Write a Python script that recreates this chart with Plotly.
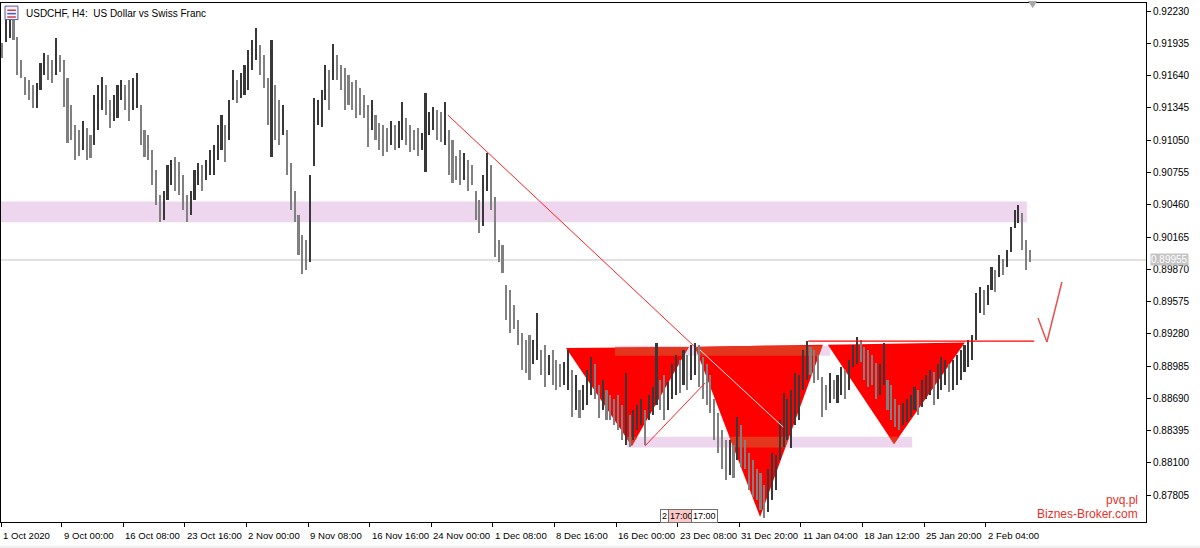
import plotly.graph_objects as go

# ---------------- data (8-hour bars) ----------------
highs = [
    0.9194, 0.9218, 0.9223, 0.9215, 0.9199, 0.9178, 0.9163, 0.9160, 0.9155, 0.9157,
    0.9176, 0.9185, 0.9183, 0.9178, 0.9198, 0.9183, 0.9178, 0.9162, 0.9137, 0.9119,
    0.9114, 0.9123, 0.9116, 0.9110, 0.9146, 0.9155, 0.9163, 0.9155, 0.9142, 0.9146,
    0.9155, 0.9160, 0.9155, 0.9160, 0.9162, 0.9166, 0.9137, 0.9114, 0.9110, 0.9096,
    0.9078, 0.9055, 0.9059, 0.9082, 0.9087, 0.9090, 0.9085, 0.9073, 0.9055, 0.9059,
    0.9078, 0.9084, 0.9082, 0.9087, 0.9096, 0.9101, 0.9119, 0.9128, 0.9119, 0.9142,
    0.9169, 0.9160, 0.9166, 0.9174, 0.9187, 0.9197, 0.9208, 0.9192, 0.9183, 0.9162,
    0.9197, 0.9155, 0.9142, 0.9137, 0.9114, 0.9084, 0.9059, 0.9037, 0.9018, 0.9014,
    0.9073, 0.9144, 0.9142, 0.9151, 0.9174, 0.9169, 0.9193, 0.9183, 0.9174, 0.9171,
    0.9165, 0.9158, 0.9160, 0.9153, 0.9146, 0.9137, 0.9142, 0.9128, 0.9121, 0.9119,
    0.9116, 0.9123, 0.9119, 0.9123, 0.9140, 0.9125, 0.9119, 0.9114, 0.9116, 0.9112,
    0.9148, 0.9131, 0.9135, 0.9133, 0.9131, 0.9140, 0.9114, 0.9105, 0.9091, 0.9096,
    0.9093, 0.9087, 0.9082, 0.9059, 0.9050, 0.9073, 0.9093, 0.9082, 0.9053, 0.9014,
    0.9009, 0.8973, 0.8968, 0.8954, 0.8941, 0.8929, 0.8922, 0.8927, 0.8922, 0.8947,
    0.8913, 0.8918, 0.8909, 0.8913, 0.8904, 0.8900, 0.8902, 0.8913, 0.8895, 0.8890,
    0.8877, 0.8881, 0.8895, 0.8907, 0.8900, 0.8881, 0.8886, 0.8877, 0.8872, 0.8868,
    0.8872, 0.8863, 0.8892, 0.8854, 0.8858, 0.8863, 0.8868, 0.8858, 0.8872, 0.8879,
    0.8920, 0.8886, 0.8890, 0.8884, 0.8900, 0.8909, 0.8904, 0.8913, 0.8909, 0.8918,
    0.8920, 0.8918, 0.8907, 0.8900, 0.8890, 0.8868, 0.8856, 0.8840, 0.8831, 0.8831,
    0.8826, 0.8852, 0.8845, 0.8831, 0.8819, 0.8813, 0.8804, 0.8801, 0.8790, 0.8804,
    0.8819, 0.8817, 0.8849, 0.8874, 0.8868, 0.8877, 0.8892, 0.8890, 0.8913, 0.8921,
    0.8916, 0.8913, 0.8909, 0.8889, 0.8881, 0.8892, 0.8886, 0.8890, 0.8898, 0.8895,
    0.8904, 0.8918, 0.8925, 0.8922, 0.8916, 0.8913, 0.8909, 0.8901, 0.8900, 0.8920,
    0.8886, 0.8881, 0.8868, 0.8863, 0.8865, 0.8868, 0.8872, 0.8879, 0.8877, 0.8886,
    0.8890, 0.8895, 0.8893, 0.8900, 0.8907, 0.8904, 0.8900, 0.8904, 0.8909, 0.8913,
    0.8918, 0.8922, 0.8927, 0.8965, 0.8971, 0.8968, 0.8973, 0.8989, 0.8986, 0.9000,
    0.8996, 0.9005, 0.9026, 0.9041, 0.9046, 0.9038, 0.9014, 0.9005,
]
lows = [
    0.9180, 0.9195, 0.9198, 0.9197, 0.9165, 0.9162, 0.9146, 0.9142, 0.9134, 0.9134,
    0.9151, 0.9165, 0.9160, 0.9157, 0.9165, 0.9167, 0.9135, 0.9102, 0.9105, 0.9087,
    0.9091, 0.9096, 0.9087, 0.9089, 0.9101, 0.9114, 0.9133, 0.9128, 0.9116, 0.9123,
    0.9125, 0.9142, 0.9133, 0.9123, 0.9133, 0.9134, 0.9101, 0.9090, 0.9087, 0.9064,
    0.9046, 0.9030, 0.9032, 0.9050, 0.9064, 0.9059, 0.9055, 0.9041, 0.9030, 0.9037,
    0.9050, 0.9064, 0.9059, 0.9069, 0.9073, 0.9073, 0.9087, 0.9096, 0.9085, 0.9105,
    0.9142, 0.9139, 0.9144, 0.9146, 0.9151, 0.9169, 0.9178, 0.9165, 0.9153, 0.9119,
    0.9090, 0.9105, 0.9101, 0.9110, 0.9073, 0.9041, 0.9030, 0.9000, 0.8983, 0.8986,
    0.8994, 0.9081, 0.9119, 0.9117, 0.9142, 0.9133, 0.9160, 0.9160, 0.9151, 0.9133,
    0.9137, 0.9133, 0.9125, 0.9128, 0.9125, 0.9099, 0.9114, 0.9105, 0.9096, 0.9091,
    0.9094, 0.9101, 0.9096, 0.9098, 0.9105, 0.9101, 0.9094, 0.9096, 0.9091, 0.9096,
    0.9076, 0.9110, 0.9114, 0.9105, 0.9103, 0.9101, 0.9073, 0.9066, 0.9069, 0.9064,
    0.9069, 0.9059, 0.9064, 0.9032, 0.9020, 0.9027, 0.9059, 0.9041, 0.8998, 0.8994,
    0.8984, 0.8941, 0.8929, 0.8932, 0.8918, 0.8895, 0.8892, 0.8886, 0.8900, 0.8904,
    0.8890, 0.8879, 0.8890, 0.8881, 0.8877, 0.8879, 0.8881, 0.8877, 0.8852, 0.8858,
    0.8851, 0.8858, 0.8863, 0.8872, 0.8868, 0.8851, 0.8858, 0.8849, 0.8849, 0.8845,
    0.8840, 0.8831, 0.8826, 0.8825, 0.8831, 0.8840, 0.8845, 0.8826, 0.8849, 0.8854,
    0.8863, 0.8858, 0.8849, 0.8858, 0.8868, 0.8872, 0.8874, 0.8881, 0.8877, 0.8886,
    0.8890, 0.8879, 0.8868, 0.8863, 0.8856, 0.8831, 0.8819, 0.8804, 0.8794, 0.8799,
    0.8796, 0.8813, 0.8806, 0.8804, 0.8785, 0.8779, 0.8776, 0.8767, 0.8760, 0.8765,
    0.8776, 0.8785, 0.8813, 0.8825, 0.8831, 0.8824, 0.8845, 0.8849, 0.8877, 0.8886,
    0.8890, 0.8883, 0.8886, 0.8852, 0.8858, 0.8865, 0.8868, 0.8865, 0.8872, 0.8868,
    0.8877, 0.8898, 0.8900, 0.8902, 0.8886, 0.8879, 0.8881, 0.8868, 0.8872, 0.8881,
    0.8858, 0.8849, 0.8843, 0.8840, 0.8845, 0.8847, 0.8852, 0.8858, 0.8854, 0.8861,
    0.8868, 0.8872, 0.8863, 0.8868, 0.8877, 0.8881, 0.8875, 0.8877, 0.8881, 0.8886,
    0.8893, 0.8898, 0.8904, 0.8922, 0.8947, 0.8945, 0.8954, 0.8968, 0.8966, 0.8980,
    0.8982, 0.8989, 0.9003, 0.9025, 0.9029, 0.9005, 0.8986, 0.8994,
]

x_tick_labels = ["1 Oct 2020", "9 Oct 00:00", "16 Oct 08:00", "23 Oct 16:00", "2 Nov 00:00",
                 "9 Nov 08:00", "16 Nov 16:00", "24 Nov 00:00", "1 Dec 08:00", "8 Dec 16:00",
                 "16 Dec 00:00", "23 Dec 08:00", "31 Dec 20:00", "11 Jan 04:00", "18 Jan 12:00",
                 "25 Jan 20:00", "2 Feb 04:00"]
bars_per_label = 16
y_ticks = [0.92230, 0.91935, 0.91640, 0.91345, 0.91050, 0.90755, 0.90460, 0.90165,
           0.89870, 0.89575, 0.89280, 0.88985, 0.88690, 0.88395, 0.88100, 0.87805]
y_tick_labels = ["0.92230", "0.91935", "0.91640", "0.91345", "0.91050", "0.90755", "0.90460", "0.90165",
                 "0.89870", "0.89575", "0.89280", "0.88985", "0.88690", "0.88395", "0.88100", "0.87805"]
last_price = 0.89955

# drawn objects (bar index, price)
upper_zone = [-1.0, 266.2, 0.9030, 0.9049]
lower_zone = [162.3, 236.4, 0.8824, 0.8834]
top_zone = [159.2, 215.1, 0.8908, 0.8917]
triangles = [
    [(146.5, 0.8915), (178.4, 0.8916), (163.6, 0.88255)],
    [(180.0, 0.8916), (213.2, 0.8918), (196.9, 0.87606)],
    [(214.5, 0.8918), (250.1, 0.8920), (231.7, 0.88273)],
]
trend_line = [(115.8, 0.9128), (179.7, 0.89169)]
light_line = [(181.3, 0.89132), (202.9, 0.88428)]
channel_line = [(167.0, 0.88255), (182.6, 0.8883)]
neck_line = [(209.4, 0.89214), (268.1, 0.89214)]
check_mark = [(269.1, 0.89424), (271.4, 0.89205), (275.3, 0.89754)]

X_RANGE = [-0.26, 297.14]
Y_RANGE = [0.87560, 0.92304]

n = min(len(highs), len(lows))
xs = list(range(n))
mids = [(highs[i] + lows[i]) / 2 for i in range(n)]
colors = ["#808080" if i == 0 or mids[i] <= mids[i - 1] else "#383838" for i in range(n)]

fig = go.Figure()
fig.add_trace(go.Bar(
    x=xs, y=[highs[i] - lows[i] for i in range(n)], base=lows[:n],
    width=0.55, marker=dict(color=colors, line=dict(width=0)),
    hoverinfo="skip", showlegend=False,
))


def rect(x0, x1, y0, y1, color, layer="below"):
    fig.add_shape(type="rect", xref="x", yref="y", x0=x0, x1=x1, y0=y0, y1=y1,
                  fillcolor=color, line=dict(width=0), layer=layer)


def poly_path(pts):
    return "M " + " L ".join(f"{x},{y}" for x, y in pts) + " Z"


def clip(poly, x0, x1, y0, y1):
    def clip_edge(pts, inside, inter):
        out = []
        for i in range(len(pts)):
            cur, prev = pts[i], pts[i - 1]
            if inside(cur):
                if not inside(prev):
                    out.append(inter(prev, cur))
                out.append(cur)
            elif inside(prev):
                out.append(inter(prev, cur))
        return out

    def ix(v):
        return lambda p, q: (v, p[1] + (q[1] - p[1]) * (v - p[0]) / (q[0] - p[0]))

    def iy(v):
        return lambda p, q: (p[0] + (q[0] - p[0]) * (v - p[1]) / (q[1] - p[1]), v)

    pts = list(poly)
    for inside, inter in [(lambda p: p[0] >= x0, ix(x0)), (lambda p: p[0] <= x1, ix(x1)),
                          (lambda p: p[1] >= y0, iy(y0)), (lambda p: p[1] <= y1, iy(y1))]:
        if not pts:
            break
        pts = clip_edge(pts, inside, inter)
    return pts


pink = "#EFD6EF"
rect(upper_zone[0], upper_zone[1], upper_zone[2], upper_zone[3], pink)
rect(lower_zone[0], lower_zone[1], lower_zone[2], lower_zone[3], pink)
rect(top_zone[0], top_zone[1], top_zone[2], top_zone[3], pink)

for tri in triangles:
    fig.add_shape(type="path", xref="x", yref="y", path=poly_path(tri),
                  fillcolor="#FF0000", line=dict(width=0), layer="below")
for tri in triangles:
    for z in (lower_zone, top_zone):
        c = clip(tri, z[0], z[1], z[2], z[3])
        if len(c) >= 3:
            fig.add_shape(type="path", xref="x", yref="y", path=poly_path(c),
                          fillcolor="#E4361C", line=dict(width=0), layer="below")

# current price line
fig.add_shape(type="line", xref="paper", yref="y", x0=0, x1=1, y0=last_price, y1=last_price,
              line=dict(color="#C4C4C4", width=1), layer="below")


def seg(pts, color, width):
    for a, b in zip(pts[:-1], pts[1:]):
        fig.add_shape(type="line", xref="x", yref="y", x0=a[0], y0=a[1], x1=b[0], y1=b[1],
                      line=dict(color=color, width=width), layer="above")


seg(trend_line, "#FF2020", 1)
seg(light_line, "#FFE6E6", 1)
seg(channel_line, "#FF2020", 1)
seg(neck_line, "#FF0000", 1.2)
seg(check_mark, "#E65050", 1.5)

# chart-shift marker at top
fig.add_shape(type="path", xref="x", yref="paper",
              path="M 266.5,1.004 L 268.9,1.004 L 267.7,0.990 Z",
              fillcolor="#A8A8A8", line=dict(width=0), layer="above")

# icon top-left
fig.add_shape(type="rect", xref="paper", yref="paper", x0=0.0035, x1=0.0148, y0=0.968, y1=0.994,
              fillcolor="#F2F2FA", line=dict(color="#5A5A9A", width=1), layer="above")
for k, col in enumerate(["#D04040", "#4060C0", "#D04040"]):
    yy = 0.986 - k * 0.0065
    fig.add_shape(type="line", xref="paper", yref="paper", x0=0.0055, x1=0.013, y0=yy, y1=yy,
                  line=dict(color=col, width=1.5), layer="above")

# bottom strip
fig.add_shape(type="rect", xref="paper", yref="paper", x0=-0.01, x1=1.06, y0=-0.046, y1=-0.07,
              fillcolor="#F0F0F0", line=dict(width=0), layer="below")

# x tick positions
tick_pos = [max(k * bars_per_label - 0.5, X_RANGE[0]) for k in range(len(x_tick_labels))]

ann = []
for pos, lab in zip(tick_pos, x_tick_labels):
    ann.append(dict(x=pos, xref="x", y=0, yref="paper", yshift=-13, text=lab, showarrow=False,
                    xanchor="left", yanchor="middle", xshift=0,
                    font=dict(family="Liberation Sans", size=9.6, color="#000000")))

ann.append(dict(x=0.0201, xref="paper", y=0.9807, yref="paper", text="USDCHF, H4:  US Dollar vs Swiss Franc",
                showarrow=False, xanchor="left", yanchor="middle",
                font=dict(family="Liberation Sans", size=10, color="#000000")))
ann.append(dict(x=1.0, xref="paper", y=last_price, yref="y", xshift=4, text="0.89955", showarrow=False,
                xanchor="left", yanchor="middle", bgcolor="#C4C4C4", borderpad=0,
                font=dict(family="Liberation Sans", size=10, color="#FFFFFF")))
ann.append(dict(x=0.9948, xref="paper", y=0.0424, yref="paper", text="pvq.pl", showarrow=False,
                xanchor="right", yanchor="middle",
                font=dict(family="Liberation Sans", size=12, color="#E8302A")))
ann.append(dict(x=0.9948, xref="paper", y=0.0154, yref="paper", text="Biznes-Broker.com", showarrow=False,
                xanchor="right", yanchor="middle",
                font=dict(family="Liberation Sans", size=12, color="#E8302A")))
for xc, txt, bg in [(0.5795, "2", "#FFFFFF"), (0.5943, "17:00", "#FFC8C8"), (0.6148, "17:00", "#FFFFFF")]:
    ann.append(dict(x=xc, xref="paper", y=0.0125, yref="paper", text=txt, showarrow=False,
                    xanchor="center", yanchor="middle", bgcolor=bg, bordercolor="#707070",
                    borderwidth=1, borderpad=1,
                    font=dict(family="Liberation Sans", size=9, color="#000000")))

fig.update_layout(
    width=1200, height=548,
    margin=dict(l=1, r=54, t=3, b=26),
    paper_bgcolor="#FFFFFF", plot_bgcolor="#FFFFFF",
    showlegend=False, annotations=ann, bargap=0,
    xaxis=dict(range=X_RANGE, showgrid=False, zeroline=False, showline=True, mirror=True,
               linecolor="#000000", linewidth=1, ticks="outside", ticklen=4, tickcolor="#000000",
               tickmode="array", tickvals=tick_pos, showticklabels=False, fixedrange=True),
    yaxis=dict(range=Y_RANGE, side="right", showgrid=False, zeroline=False, showline=True, mirror=True,
               linecolor="#000000", linewidth=1, ticks="outside", ticklen=4, tickcolor="#000000",
               tickmode="array", tickvals=y_ticks, ticktext=y_tick_labels, automargin=False,
               tickfont=dict(family="Liberation Sans", size=10, color="#000000"), fixedrange=True),
)

fig.write_html("out.html", config={"displayModeBar": False},
               post_script="document.body.style.margin='0';document.body.style.padding='0';")
